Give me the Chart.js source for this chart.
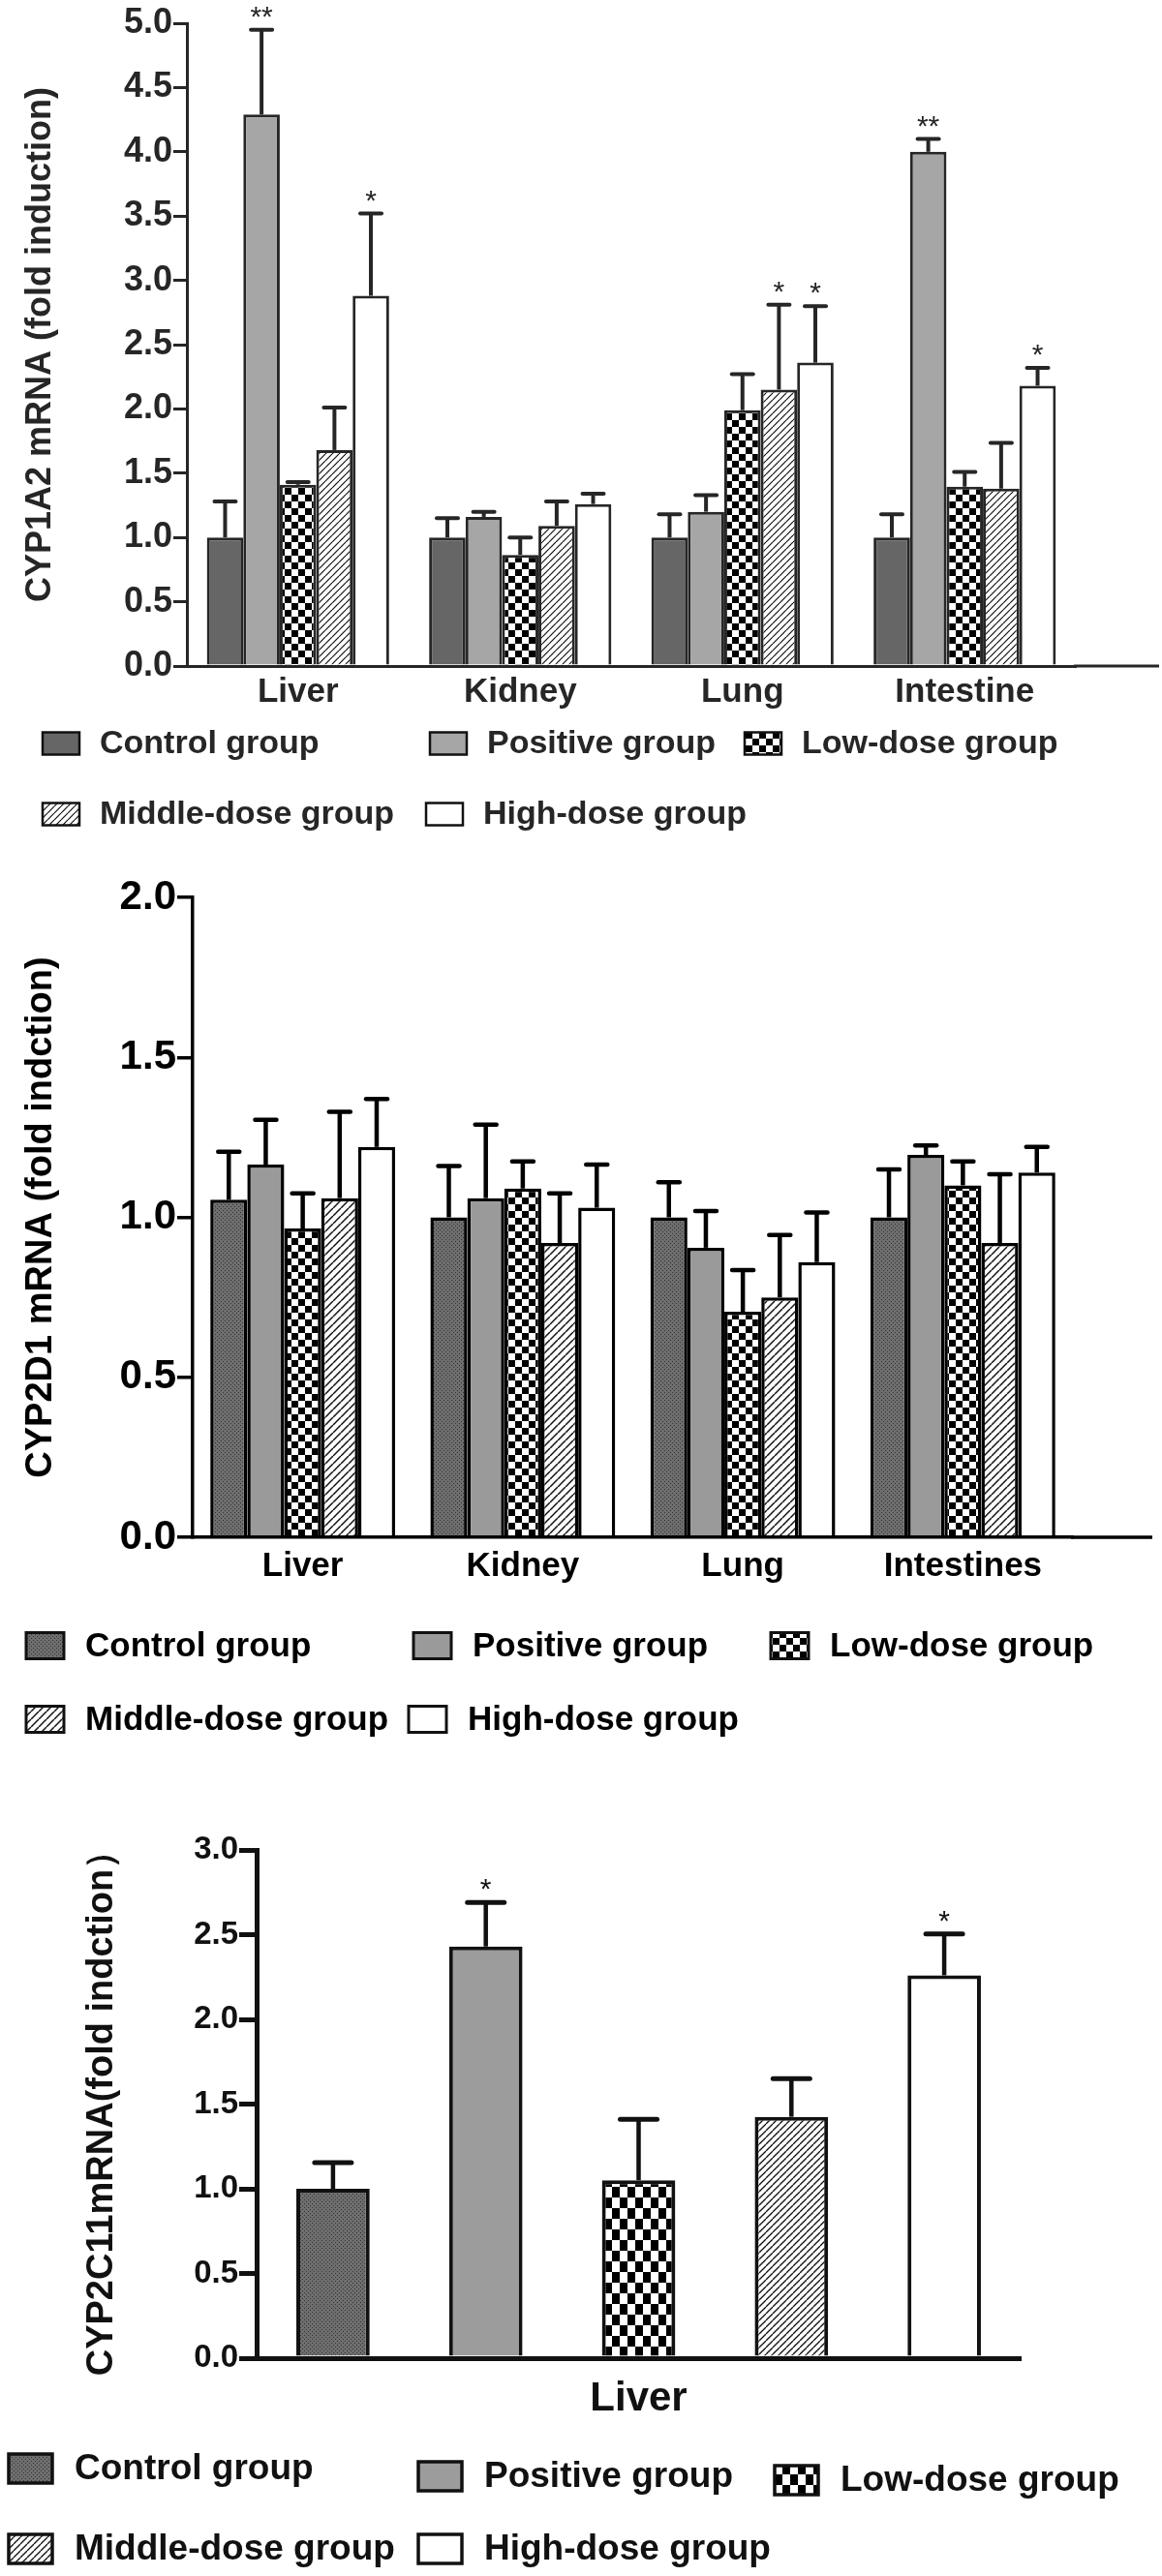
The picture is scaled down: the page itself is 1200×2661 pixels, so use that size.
<!DOCTYPE html>
<html>
<head>
<meta charset="utf-8">
<script src="https://cdn.jsdelivr.net/npm/chart.js@4.4.1/dist/chart.umd.min.js"></script>
<style>
  html, body { margin: 0; padding: 0; background: #fff; }
  canvas { position: absolute; left: 0; }
</style>
</head>
<body>
<canvas id="cyp1a2" width="1200" height="880" style="top:0px"></canvas>
<canvas id="cyp2d1" width="1200" height="950" style="top:880px"></canvas>
<canvas id="cyp2c11" width="1200" height="831" style="top:1830px"></canvas>
<script>
const groups = ['Control group', 'Positive group', 'Low-dose group', 'Middle-dose group', 'High-dose group'];

// CYP1A2 - rows follow the groups order
const tissues1A2 = ['Liver', 'Kidney', 'Lung', 'Intestine'];
const mean1A2 = [
    [1.00, 1.00, 1.00, 1.00],
    [4.29, 1.16, 1.20, 4.00],
    [1.41, 0.865, 1.99, 1.395],
    [1.68, 1.09, 2.15, 1.38],
    [2.88, 1.26, 2.36, 2.18]
];
const sem1A2 = [
    [0.28, 0.15, 0.18, 0.18],
    [0.66, 0.04, 0.13, 0.10],
    [0.02, 0.135, 0.28, 0.115],
    [0.33, 0.19, 0.66, 0.355],
    [0.64, 0.08, 0.44, 0.14]
];
const stars1A2 = [
    ['', '', '', ''],
    ['**', '', '', '**'],
    ['', '', '', ''],
    ['', '', '*', ''],
    ['*', '', '*', '*']
];
const ticks1A2 = { max: 5, step: 0.5 };

// CYP2D1
const tissues2D1 = ['Liver', 'Kidney', 'Lung', 'Intestines'];
const mean2D1 = [
    [1.055, 1.00, 1.00, 1.00],
    [1.165, 1.06, 0.905, 1.195],
    [0.965, 1.09, 0.705, 1.10],
    [1.06, 0.92, 0.75, 0.92],
    [1.22, 1.03, 0.86, 1.14]
];
const sem2D1 = [
    [0.15, 0.16, 0.11, 0.15],
    [0.14, 0.23, 0.115, 0.03],
    [0.11, 0.085, 0.13, 0.075],
    [0.27, 0.155, 0.195, 0.215],
    [0.15, 0.135, 0.155, 0.08]
];
const stars2D1 = [['', '', '', ''], ['', '', '', ''], ['', '', '', ''], ['', '', '', ''], ['', '', '', '']];
const ticks2D1 = { max: 2, step: 0.5 };

// CYP2C11
const tissues2C11 = ['Liver'];
const mean2C11 = [[1.00], [2.43], [1.05], [1.425], [2.26]];
const sem2C11 = [[0.155], [0.26], [0.36], [0.225], [0.245]];
const stars2C11 = [[''], ['*'], [''], [''], ['*']];
const ticks2C11 = { max: 3, step: 0.5 };

const FONT = "'Liberation Sans', Arial, Helvetica, sans-serif";

// fill patterns
function tile(w, h, draw) {
    const c = document.createElement('canvas');
    c.width = w; c.height = h;
    const g = c.getContext('2d');
    draw(g, w, h);
    return g.createPattern(c, 'repeat');
}
const checker = (w, h) => tile(w * 2, h * 2, (g) => {
    g.fillStyle = '#fff'; g.fillRect(0, 0, w * 2, h * 2);
    g.fillStyle = '#000'; g.fillRect(0, 0, w, h); g.fillRect(w, h, w, h);
});
const hatch = (s, lw) => tile(s, s, (g) => {
    g.fillStyle = '#fff'; g.fillRect(0, 0, s, s);
    g.strokeStyle = '#111'; g.lineWidth = lw;
    [-s, 0, s].forEach(k => { g.beginPath(); g.moveTo(k, s); g.lineTo(k + s, 0); g.stroke(); });
});
const stipple = (base, dot) => tile(4, 4, (g) => {
    g.fillStyle = base; g.fillRect(0, 0, 4, 4);
    g.fillStyle = dot; g.fillRect(0, 0, 1, 1); g.fillRect(2, 2, 1, 1);
});

function errorBars(st) {
    return {
        id: 'errorBars',
        afterDatasetsDraw(chart) {
            const ctx = chart.ctx;
            const y = chart.scales.y;
            chart.data.datasets.forEach((ds, d) => {
                chart.getDatasetMeta(d).data.forEach((bar, i) => {
                    const top = y.getPixelForValue(ds.data[i] + ds.sem[i]);
                    ctx.save();
                    ctx.strokeStyle = st.color;
                    ctx.lineWidth = st.stem;
                    ctx.beginPath();
                    ctx.moveTo(bar.x, bar.y);
                    ctx.lineTo(bar.x, top);
                    ctx.stroke();
                    ctx.lineWidth = st.capLine;
                    ctx.lineCap = 'round';
                    ctx.beginPath();
                    ctx.moveTo(bar.x - st.cap / 2, top);
                    ctx.lineTo(bar.x + st.cap / 2, top);
                    ctx.stroke();
                    if (ds.stars[i]) {
                        ctx.fillStyle = st.color;
                        ctx.font = '30px ' + FONT;
                        ctx.textAlign = 'center';
                        ctx.textBaseline = 'alphabetic';
                        ctx.fillText(ds.stars[i], bar.x, top - 4);
                    }
                    ctx.restore();
                });
            });
        }
    };
}

function boxLegend(lg) {
    return {
        id: 'boxLegend',
        afterDraw(chart) {
            const ctx = chart.ctx;
            chart.data.datasets.forEach((ds, i) => {
                const [x, y] = lg.spots[i];
                ctx.save();
                ctx.fillStyle = ds.backgroundColor;
                ctx.fillRect(x, y - lg.boxH / 2, lg.boxW, lg.boxH);
                ctx.strokeStyle = '#111';
                ctx.lineWidth = lg.border;
                ctx.strokeRect(x, y - lg.boxH / 2, lg.boxW, lg.boxH);
                ctx.fillStyle = lg.color;
                ctx.font = 'bold ' + lg.size + 'px ' + FONT;
                ctx.textBaseline = 'middle';
                ctx.fillText(ds.label, x + lg.boxW + lg.gap, y + 1);
                ctx.restore();
            });
        }
    };
}

function axisTail(toX, width, color) {
    return {
        id: 'axisTail',
        afterDraw(chart) {
            const { ctx, chartArea } = chart;
            if (toX <= chartArea.right) return;
            ctx.save();
            ctx.strokeStyle = color;
            ctx.lineWidth = width;
            ctx.beginPath();
            ctx.moveTo(chartArea.right - 2, chartArea.bottom);
            ctx.lineTo(toX, chartArea.bottom);
            ctx.stroke();
            ctx.restore();
        }
    };
}

function drawPanel(id, p) {
    const datasets = groups.map((g, k) => ({
        label: g,
        data: p.means[k],
        sem: p.sems[k],
        stars: p.stars[k],
        backgroundColor: p.fills[k],
        borderColor: p.ink,
        borderWidth: p.barLine,
        categoryPercentage: p.catPct,
        barPercentage: p.barPct
    }));

    return new Chart(document.getElementById(id), {
        type: 'bar',
        data: { labels: p.labels, datasets: datasets },
        options: {
            responsive: false,
            animation: false,
            events: [],
            layout: { padding: p.padding },
            plugins: { legend: { display: false }, tooltip: { enabled: false } },
            scales: {
                x: {
                    z: 1,
                    grid: { display: false, drawTicks: false },
                    border: { display: true, color: p.ink, width: p.axisLine },
                    ticks: {
                        color: p.ink, padding: p.xPad, maxRotation: 0,
                        font: { family: FONT, size: p.xSize, weight: 'bold' }
                    },
                    afterFit: s => { s.height = p.xHeight; }
                },
                y: {
                    min: 0,
                    max: p.ticks.max,
                    grid: { drawOnChartArea: false, drawTicks: true, tickLength: p.tickLen, color: p.ink, lineWidth: p.axisLine },
                    border: { display: true, color: p.ink, width: p.axisLine },
                    ticks: {
                        stepSize: p.ticks.step, padding: 1, color: p.ink,
                        font: { family: FONT, size: p.ySize, weight: 'bold' },
                        callback: v => v.toFixed(1)
                    },
                    title: {
                        display: true, text: p.title, color: p.ink,
                        font: { family: FONT, size: p.titleSize, weight: 'bold', lineHeight: 1 },
                        padding: { top: p.titlePad, bottom: 0 }
                    },
                    afterFit: s => { s.width = p.yWidth; }
                }
            }
        },
        plugins: [errorBars(p.err), boxLegend(p.legend), axisTail(p.tailTo, p.axisLine, p.ink)]
    });
}

drawPanel('cyp1a2', {
    labels: tissues1A2, means: mean1A2, sems: sem1A2, stars: stars1A2, ticks: ticks1A2,
    title: 'CYP1A2 mRNA (fold induction)',
    fills: ['#666666', '#a6a6a6', checker(7, 7), hatch(7, 1.2), '#ffffff'],
    ink: '#262626', barLine: 3, axisLine: 3, catPct: 0.82, barPct: 1,
    padding: { left: 0, top: 24, right: 89, bottom: 122 },
    yWidth: 193, xHeight: 70, tickLen: 14, xPad: 6,
    ySize: 36, xSize: 35, titleSize: 36, titlePad: 24,
    tailTo: 1197,
    err: { color: '#262626', stem: 4, capLine: 4, cap: 22 },
    legend: { spots: [[44, 768], [444, 768], [769, 768], [44, 841], [440, 841]], boxW: 38, boxH: 23, gap: 21, size: 34, border: 2.5, color: '#262626' }
});

drawPanel('cyp2d1', {
    labels: tissues2D1, means: mean2D1, sems: sem2D1, stars: stars2D1, ticks: ticks2D1,
    title: 'CYP2D1 mRNA (fold indction)',
    fills: [stipple('#6e6e6e', '#333333'), '#9a9a9a', checker(7, 7), hatch(8, 1.5), '#ffffff'],
    ink: '#000000', barLine: 3.5, axisLine: 3.5, catPct: 0.84, barPct: 1,
    padding: { left: 0, top: 47, right: 92, bottom: 172 },
    yWidth: 199, xHeight: 70, tickLen: 16, xPad: 9,
    ySize: 42, xSize: 35, titleSize: 38, titlePad: 24,
    tailTo: 1190,
    err: { color: '#000000', stem: 4.5, capLine: 4.5, cap: 22 },
    legend: { spots: [[27, 820], [427, 820], [796, 820], [27, 896], [422, 896]], boxW: 39, boxH: 27, gap: 22, size: 35, border: 3, color: '#000000' }
});

drawPanel('cyp2c11', {
    labels: tissues2C11, means: mean2C11, sems: sem2C11, stars: stars2C11, ticks: ticks2C11,
    title: 'CYP2C11mRNA(fold indction）',
    fills: [stipple('#6e6e6e', '#333333'), '#9c9c9c', checker(8, 11), hatch(7, 1.3), '#ffffff'],
    ink: '#111111', barLine: 4, axisLine: 5, catPct: 1, barPct: 0.48,
    padding: { left: 0, top: 81, right: 146, bottom: 145 },
    yWidth: 265, xHeight: 80, tickLen: 18, xPad: 17,
    ySize: 33, xSize: 42, titleSize: 38, titlePad: 87,
    tailTo: 1054,
    err: { color: '#111111', stem: 4.5, capLine: 5, cap: 38 },
    legend: { spots: [[9, 720], [432, 728], [800, 732], [9, 803], [432, 803]], boxW: 45, boxH: 30, gap: 23, size: 37, border: 3.5, color: '#111111' }
});
</script>
</body>
</html>
